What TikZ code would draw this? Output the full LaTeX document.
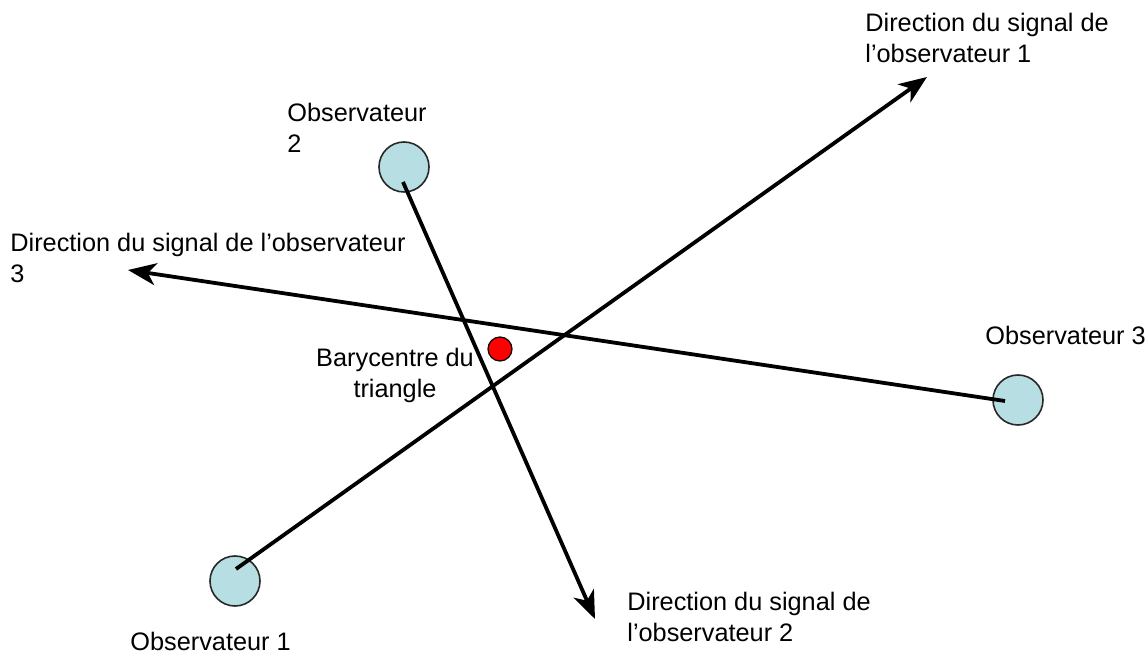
\documentclass[tikz,border=0pt]{standalone}
\usepackage{fontspec}
\setmainfont{Liberation Sans}
\usetikzlibrary{arrows.meta}
\definecolor{obsfill}{RGB}{183,222,226}
\definecolor{obsline}{RGB}{40,40,40}
\begin{document}
\begin{tikzpicture}[x=0.5pt,y=-0.5pt,
  observer/.style={circle,draw=obsline,line width=0.8pt,fill=obsfill,minimum size=25pt,inner sep=0pt},
  centre/.style={circle,draw=black,line width=0.6pt,fill=red,minimum size=12pt,inner sep=0pt},
  signal/.style={line width=1.9pt,-{Stealth[length=14pt,width=11pt,inset=4pt]}},
  label/.style={font=\fontsize{12.65}{15.75}\selectfont,inner sep=0pt,align=left,anchor=base west}]
\useasboundingbox (0,0) rectangle (1147,657);

% observers and the barycentre
\node[observer] (o1) at (235,581) {};
\node[observer] (o2) at (404,167) {};
\node[observer] (o3) at (1018,400) {};
\node[centre] (bary) at (500,349) {};

% start and end points of the signal directions
\coordinate (s1) at (236,569);
\coordinate (e1) at (927,77);
\coordinate (s2) at (403,182);
\coordinate (e2) at (595,619);
\coordinate (s3) at (1005,401);
\coordinate (e3) at (128,270);

\draw[signal] (s1) -- (e1);
\draw[signal] (s2) -- (e2);
\draw[signal] (s3) -- (e3);

% labels (positioned by the baseline of their last line)
\node[label] (t1) at (865,63) {Direction du signal de\\l’observateur 1};
\node[label] (t2) at (287,153) {Observateur\\2};
\node[label] (t3) at (10,283) {Direction du signal de l’observateur\\3};
\node[label] (t4) at (985,345) {Observateur 3};
\node[font=\fontsize{12.65}{15.75}\selectfont,inner sep=0pt,align=center,anchor=base] (t5) at (395,398) {Barycentre du\\triangle};
\node[label] (t6) at (627,642) {Direction du signal de\\l’observateur 2};
\node[label] (t7) at (130,651) {Observateur 1};
\end{tikzpicture}
\end{document}
